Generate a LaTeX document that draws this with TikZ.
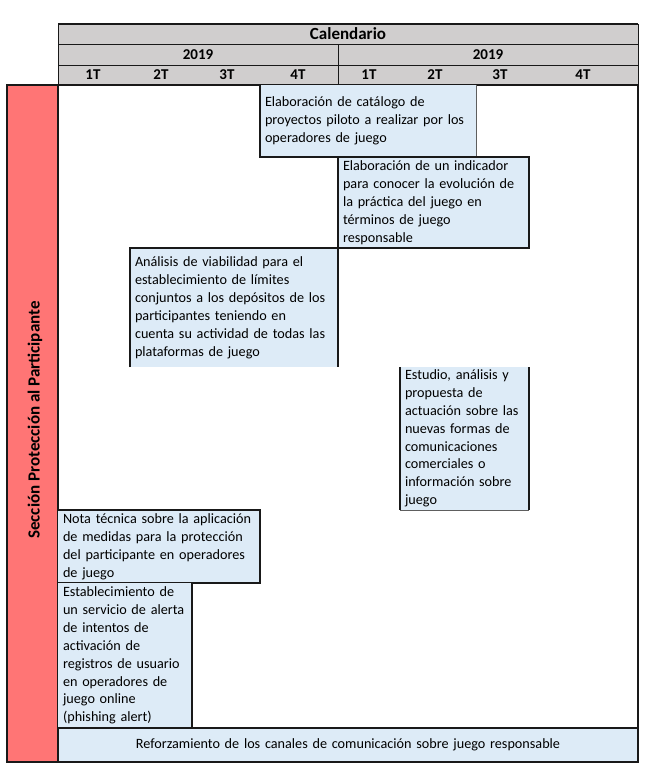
\documentclass[tikz,border=0pt]{standalone}
\usepackage{fontspec}
\setmainfont{Carlito}
\definecolor{hdr}{RGB}{208,206,206}
\definecolor{side}{RGB}{255,117,117}
\definecolor{cell}{RGB}{221,235,247}
\definecolor{ln}{RGB}{25,25,25}
\begin{document}
\begin{tikzpicture}[x=1pt,y=-1pt,
  hdrcell/.style={fill=hdr, draw=ln, line width=1pt, anchor=north west, inner sep=0pt, outer sep=0pt, font=\fontsize{15}{15}\selectfont\bfseries},
  qlab/.style={font=\fontsize{15}{15}\selectfont\bfseries, inner sep=0pt},
  cellbox/.style={fill=cell, anchor=north west, inner xsep=5pt, inner ysep=0pt, outer sep=0pt, align=left, font=\fontsize{14.2}{18}\selectfont},
  edge/.style={draw=ln, line width=1.2pt},
  thinedge/.style={draw=ln!70, line width=0.8pt}]
\useasboundingbox (0,0) rectangle (650,774);
\fill[white] (0,0) rectangle (650,774);
% header
\node[hdrcell, minimum width=580, minimum height=20] (cal) at (58,24) {\fontsize{17}{17}\selectfont Calendario};
\node[hdrcell, minimum width=280, minimum height=21] (ya) at (58,44) {2019};
\node[hdrcell, minimum width=300, minimum height=21] (yb) at (338,44) {2019};
\node[hdrcell, minimum width=280, minimum height=20] (qa) at (58,65) {};
\node[hdrcell, minimum width=300, minimum height=20] (qb) at (338,65) {};
\draw[line width=2pt, draw=ln] (cal.north west) -- (cal.north east);
\node[qlab] (q1) at (93,75) {1T};
\node[qlab] (q2) at (161,75) {2T};
\node[qlab] (q3) at (227,75) {3T};
\node[qlab] (q4) at (298,75) {4T};
\node[qlab] (q5) at (369,75) {1T};
\node[qlab] (q6) at (435,75) {2T};
\node[qlab] (q7) at (500,75) {3T};
\node[qlab] (q8) at (583,75) {4T};
% sidebar
\node[fill=side, draw=ln, line width=1.2pt, anchor=north west, minimum width=51, minimum height=677, inner sep=0pt, outer sep=0pt] (side) at (7,85) {};
\node[rotate=90, font=\fontsize{17}{17}\selectfont\bfseries, inner sep=0pt] (sidelab) at (35,420) {Sección Protección al Participante};
% main area
\node[fill=white, draw=ln, line width=1.2pt, anchor=north west, minimum width=580, minimum height=677, inner sep=0pt, outer sep=0pt] (main) at (58,85) {};
% boxes
\node[cellbox, text width=206, minimum height=72] (b1) at (260,85)
  {Elaboración de catálogo de\\proyectos piloto a realizar por los\\operadores de juego};
\draw[edge] (b1.north west) -- (b1.south west) -- (b1.south east);
\draw[thinedge] (b1.south east) -- (b1.north east);
\node[cellbox, text width=181, minimum height=91] (b2) at (338,157)
  {Elaboración de un indicador\\para conocer la evolución de\\la práctica del juego en\\términos de juego\\responsable};
\draw[edge] (b2.north west) rectangle (b2.south east);
\node[cellbox, text width=198, minimum height=119] (b3) at (130,248)
  {Análisis de viabilidad para el\\establecimiento de límites\\conjuntos a los depósitos de los\\participantes teniendo en\\cuenta su actividad de todas las\\plataformas de juego};
\draw[edge] (b3.south west) -- (b3.north west) -- (b3.north east) -- (b3.south east);
\node[cellbox, text width=119, minimum height=143, font=\fontsize{14.2}{17.8}\selectfont] (b4) at (400,367)
  {Estudio, análisis y\\propuesta de\\actuación sobre las\\nuevas formas de\\comunicaciones\\comerciales o\\información sobre\\juego};
\draw[edge] (b4.north west) -- (b4.south west);
\draw[thinedge] (b4.south west) -- (b4.south east);
\draw[edge] (b4.south east) -- (b4.north east);
\node[cellbox, text width=192, minimum height=73] (b5) at (58,510)
  {Nota técnica sobre la aplicación\\de medidas para la protección\\del participante en operadores\\de juego};
\draw[edge] (b5.north west) -- (b5.north east) -- (b5.south east) -- (b5.south west);
\node[cellbox, text width=124, minimum height=145, font=\fontsize{14.2}{17.9}\selectfont] (b6) at (58,583)
  {Establecimiento de\\un servicio de alerta\\de intentos de\\activación de\\registros de usuario\\en operadores de\\juego online\\(phishing alert)};
\draw[edge] (b6.north east) -- (b6.south east);
\node[cellbox, text width=570, minimum height=34, align=center] (b7) at (58,728)
  {Reforzamiento de los canales de comunicación sobre juego responsable};
\draw[edge] (b7.north west) rectangle (b7.south east);
\end{tikzpicture}
\end{document}
